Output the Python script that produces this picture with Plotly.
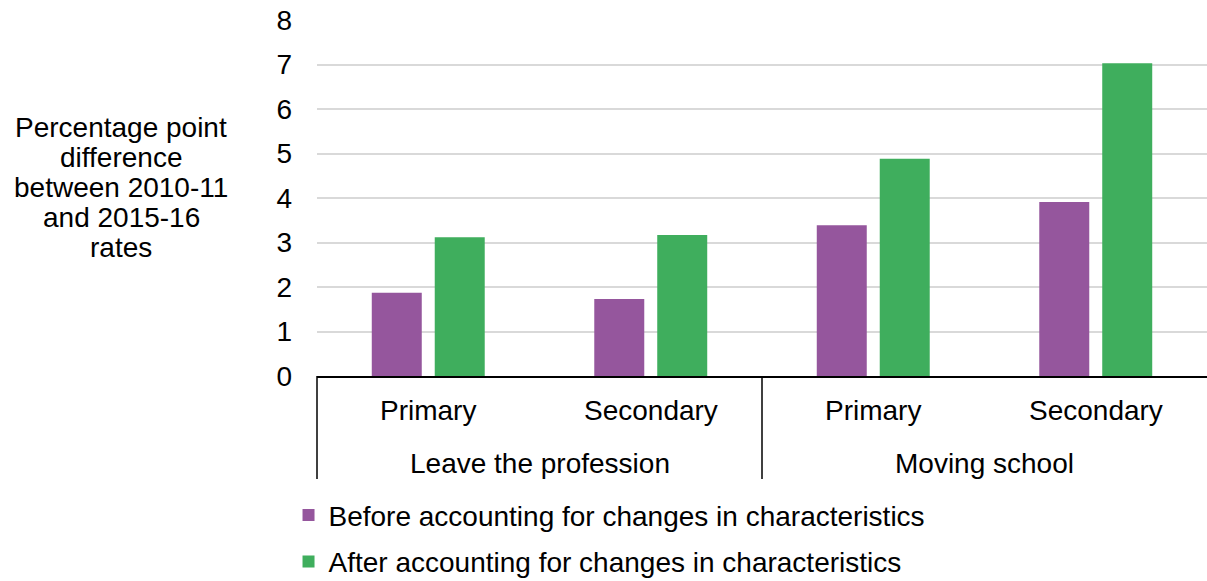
import plotly.graph_objects as go

groups = ["Leave the profession", "Leave the profession", "Moving school", "Moving school"]
phases = ["Primary", "Secondary", "Primary", "Secondary"]
before = [1.87, 1.73, 3.39, 3.91]
after = [3.12, 3.17, 4.88, 7.03]
series_names = ["Before accounting for changes in characteristics",
                "After accounting for changes in characteristics"]
y_title_lines = ["Percentage point", "difference", "between 2010-11", "and 2015-16", "rates"]
y_ticks = [0, 1, 2, 3, 4, 5, 6, 7, 8]

PURPLE = "#95569D"
GREEN = "#3FAE5D"
FONT = "Liberation Sans, Arial, sans-serif"
FS = 28

cats = [f"{g}|{p}" for g, p in zip(groups, phases)]
n = len(cats)

fig = go.Figure()
fig.add_trace(go.Bar(x=cats, y=before, name=series_names[0],
                     marker=dict(color=PURPLE, line=dict(width=0)), legendgroup="a"))
fig.add_trace(go.Bar(x=cats, y=after, name=series_names[1],
                     marker=dict(color=GREEN, line=dict(width=0)), legendgroup="b"))

annotations = []
# y-axis title, one line at a time (horizontal, centred)
for i, line in enumerate(y_title_lines):
    annotations.append(dict(text=line, xref="paper", yref="paper", x=-0.2202,
                            y=0.6994 - i * 0.0843, xanchor="center", yanchor="middle",
                            showarrow=False, font=dict(size=FS, family=FONT, color="black")))
# first-level category labels
for i, p in enumerate(phases):
    annotations.append(dict(text=p, xref="paper", yref="paper", x=(i + 0.5) / n, y=-0.098,
                            xanchor="center", yanchor="middle", showarrow=False,
                            font=dict(size=FS, family=FONT, color="black")))
# second-level group labels
uniq = []
for g in groups:
    if g not in uniq:
        uniq.append(g)
shapes = []
for g in uniq:
    idx = [i for i, gg in enumerate(groups) if gg == g]
    lo, hi = min(idx) / n, (max(idx) + 1) / n
    annotations.append(dict(text=g, xref="paper", yref="paper", x=(lo + hi) / 2, y=-0.245,
                            xanchor="center", yanchor="middle", showarrow=False,
                            font=dict(size=FS, family=FONT, color="black")))
    if hi < 1:
        shapes.append(dict(type="line", xref="paper", yref="paper", x0=hi, x1=hi, y0=0, y1=-0.289,
                           line=dict(color="black", width=1.5)))
    if lo == 0:
        shapes.append(dict(type="line", xref="paper", yref="paper", x0=0, x1=0, y0=0, y1=-0.289,
                           line=dict(color="black", width=1.5)))

fig.update_layout(
    width=1207, height=581,
    margin=dict(l=317, r=0, t=20, b=205, autoexpand=False),
    paper_bgcolor="white", plot_bgcolor="white",
    font=dict(family=FONT, size=FS, color="black"),
    barmode="group", bargap=0.434, bargroupgap=0.206,
    showlegend=True,
    legend=dict(orientation="v", x=-0.032, xanchor="left",
                yref="container", y=0.156, yanchor="top",
                font=dict(size=FS), tracegroupgap=7, bgcolor="rgba(0,0,0,0)"),
    annotations=annotations,
    shapes=shapes,
)
fig.update_yaxes(range=[0, 8], tickvals=y_ticks, showgrid=True, gridcolor="#D9D9D9",
                 gridwidth=1.5, zeroline=False, showline=False, ticks="",
                 ticklabelstandoff=24, tickfont=dict(size=FS), automargin=False)
fig.update_xaxes(type="category", range=[-0.5, n - 0.5], showline=True, linecolor="black",
                 linewidth=1.5, ticks="", showticklabels=False, showgrid=False, automargin=False)

fig.write_html("out.html", config={"displayModeBar": False},
               post_script="document.body.style.margin='0';document.body.style.overflow='hidden';")
